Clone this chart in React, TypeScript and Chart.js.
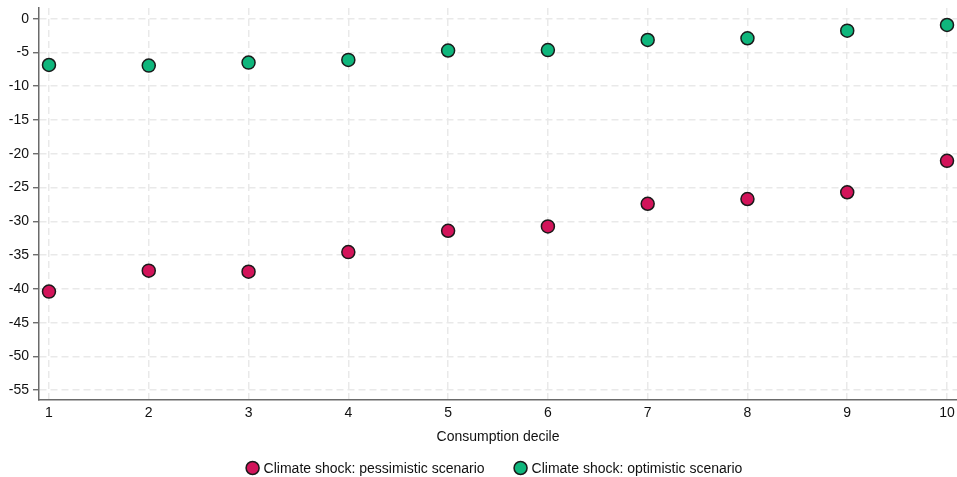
import React, { useEffect, useRef } from "react";
import { Chart, registerables } from "chart.js";

Chart.register(...registerables);

const deciles = [1, 2, 3, 4, 5, 6, 7, 8, 9, 10];
const pessimistic = [-40.4, -37.3, -37.45, -34.55, -31.4, -30.75, -27.4, -26.7, -25.7, -21.05];
const optimistic = [-6.85, -6.95, -6.5, -6.1, -4.72, -4.65, -3.15, -2.9, -1.77, -0.93];
const yTicks = [0, -5, -10, -15, -20, -25, -30, -35, -40, -45, -50, -55];
const xTitle = "Consumption decile";
const seriesNames = ["Climate shock: pessimistic scenario", "Climate shock: optimistic scenario"];
const seriesColors = ["#d2145a", "#0fb67c"];

const FONT = '"Liberation Sans", Arial, sans-serif';
const CANVAS_W = 965;

const legendPlugin = {
  id: "customLegend",
  afterDraw(chart: any) {
    const ctx = chart.ctx;
    ctx.save();
    ctx.font = `14px ${FONT}`;
    ctx.textBaseline = "middle";
    const r = 7;
    const gapIcon = 4;
    const gapItems = 29;
    const widths = seriesNames.map((n) => ctx.measureText(n).width);
    const total = widths.reduce((a, w) => a + 2 * r + gapIcon + w, 0) + gapItems;
    const cx = 494;
    const y = 468;
    let x = cx - total / 2;
    seriesNames.forEach((n, i) => {
      ctx.beginPath();
      ctx.arc(x + r, y, r - 0.5, 0, Math.PI * 2);
      ctx.fillStyle = seriesColors[i];
      ctx.fill();
      ctx.lineWidth = 1.5;
      ctx.strokeStyle = "#1a1a1a";
      ctx.stroke();
      ctx.fillStyle = "#111";
      ctx.textAlign = "left";
      ctx.fillText(n, x + 2 * r + gapIcon, y + 1);
      x += 2 * r + gapIcon + widths[i] + gapItems;
    });
    ctx.restore();
  },
};

export default function App() {
  const ref = useRef<HTMLCanvasElement | null>(null);
  useEffect(() => {
    if (!ref.current) return;
    const mk = (vals: number[]) => deciles.map((d, i) => ({ x: d, y: vals[i] }));
    const chart = new Chart(ref.current, {
      type: "scatter",
      data: {
        datasets: [
          {
            label: seriesNames[0],
            data: mk(pessimistic),
            backgroundColor: seriesColors[0],
            borderColor: "#1a1a1a",
            borderWidth: 1.5,
            pointRadius: 6.5,
            pointHoverRadius: 6.5,
          },
          {
            label: seriesNames[1],
            data: mk(optimistic),
            backgroundColor: seriesColors[1],
            borderColor: "#1a1a1a",
            borderWidth: 1.5,
            pointRadius: 6.5,
            pointHoverRadius: 6.5,
          },
        ],
      },
      options: {
        animation: false,
        responsive: false,
        devicePixelRatio: 1,
        layout: { padding: { top: 8, right: 1, left: 0, bottom: 27 } },
        plugins: { legend: { display: false }, tooltip: { enabled: false } },
        scales: {
          x: {
            type: "linear",
            min: 0.9,
            max: 10.1,
            afterBuildTicks: (s: any) => {
              s.ticks = deciles.map((v) => ({ value: v }));
            },
            afterFit: (s: any) => {
              s.height = 50;
            },
            ticks: {
              font: { family: FONT, size: 14 },
              color: "#111",
              padding: 5,
              maxRotation: 0,
              autoSkip: false,
              callback: (v: any) => String(v),
            },
            grid: {
              color: "#e9e9e9",
              lineWidth: 1.5,
              drawTicks: false,
            },
            border: { display: true, color: "#6a6a6a", width: 1.5, dash: [7, 4] },
            title: {
              display: true,
              text: xTitle,
              font: { family: FONT, size: 14 },
              color: "#111",
              padding: { top: 4, bottom: 4 },
            },
          },
          y: {
            type: "linear",
            min: -56.45,
            max: 1.58,
            afterBuildTicks: (s: any) => {
              s.ticks = yTicks.map((v) => ({ value: v }));
            },
            afterFit: (s: any) => {
              s.width = 39;
              s.paddingTop = 0;
              s.paddingBottom = 0;
            },
            ticks: {
              font: { family: FONT, size: 14 },
              color: "#111",
              padding: 4,
              autoSkip: false,
              callback: (v: any) => String(v),
            },
            grid: {
              color: "#e9e9e9",
              lineWidth: 1.5,
              drawTicks: true,
              tickLength: 6,
              tickColor: "#555",
              tickWidth: 1.2,
            },
            border: { display: true, color: "#6a6a6a", width: 1.5, dash: [7, 4] },
          },
        },
      },
      plugins: [legendPlugin],
    });
    return () => chart.destroy();
  }, []);
  return (
    <div style={{ position: "absolute", left: 0, top: 0, width: 957, height: 477, overflow: "hidden", background: "#fff" }}>
      <canvas ref={ref} width={CANVAS_W} height={477} style={{ width: CANVAS_W, height: 477, display: "block" }} />
    </div>
  );
}
